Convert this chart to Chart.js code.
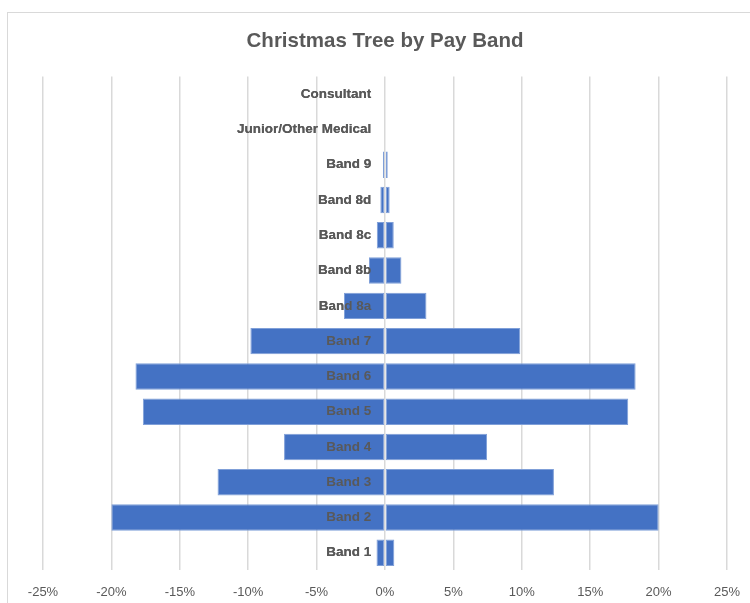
<!DOCTYPE html>
<html>
<head>
<meta charset="utf-8">
<script src="https://cdn.jsdelivr.net/npm/chart.js@4.4.1/dist/chart.umd.min.js"></script>
<style>
  html, body { margin: 0; padding: 0; background: #fff; overflow: hidden; }
  #wrap { position: relative; width: 750px; height: 603px; overflow: hidden; }
  #frame { position: absolute; left: 7px; top: 12px; width: 800px; height: 700px; border: 1px solid #d9d9d9; }
  #myChart { position: absolute; left: 0; top: 0; }
</style>
</head>
<body>
<div id="wrap">
  <div id="frame"></div>
  <canvas id="myChart" width="750" height="605"></canvas>
</div>
<script>
// pay bands, top of the tree first
const bands = ["Consultant", "Junior/Other Medical", "Band 9", "Band 8d", "Band 8c", "Band 8b", "Band 8a",
  "Band 7", "Band 6", "Band 5", "Band 4", "Band 3", "Band 2", "Band 1"];
// left half of the tree (drawn as negative %)
const leftSide = [0, 0, -0.15, -0.34, -0.6, -1.17, -3.0, -9.84, -18.24, -17.7, -7.38, -12.24, -20.0, -0.62];
// right half of the tree
const rightSide = [0, 0, 0.2, 0.34, 0.64, 1.2, 3.03, 9.89, 18.32, 17.78, 7.46, 12.35, 20.0, 0.68];
const xTicks = [-25, -20, -15, -10, -5, 0, 5, 10, 15, 20, 25];

const grey = "#595959";
const blue = "#4472C4";

// band names sit on top of the bars
const labelsOnTop = {
  id: "labelsOnTop",
  afterDatasetsDraw: function (chart) {
    chart.scales.y.drawLabels(chart.chartArea);
  }
};

function displayTreeChart() {
  var ctx = document.getElementById("myChart").getContext("2d");
  var chart = new Chart(ctx, {
    type: "bar",
    data: {
      labels: bands,
      datasets: [{
        label: "left",
        backgroundColor: blue,
        borderColor: "#7f9fd8",
        borderWidth: 1,
        borderSkipped: false,
        data: leftSide
      }, {
        label: "right",
        backgroundColor: blue,
        borderColor: "#7f9fd8",
        borderWidth: 1,
        borderSkipped: false,
        data: rightSide
      }]
    },
    options: {
      indexAxis: "y",
      responsive: false,
      animation: false,
      layout: { padding: { left: 43, right: 23, top: 0, bottom: 5 } },
      datasets: { bar: { categoryPercentage: 0.75, barPercentage: 1 } },
      plugins: {
        legend: { display: false },
        tooltip: { enabled: false },
        title: {
          display: true,
          text: "Christmas Tree by Pay Band",
          color: grey,
          font: { family: "Liberation Sans", size: 20.5, weight: "bold" },
          padding: { top: 29, bottom: 23 }
        }
      },
      scales: {
        x: {
          stacked: true,
          min: -25,
          max: 25,
          afterBuildTicks: function (scale) {
            scale.ticks = xTicks.map(function (v) { return { value: v }; });
          },
          // invisible tick marks push the % labels down
          grid: { color: "#d9d9d9", lineWidth: 1.5, drawTicks: true, tickLength: 14, tickColor: "rgba(0,0,0,0)" },
          border: { display: false },
          ticks: {
            color: grey,
            padding: 0,
            font: { family: "Liberation Sans", size: 13 },
            callback: function (v) { return v + "%"; }
          }
        },
        y: {
          stacked: true,
          position: { x: -1 },
          grid: { display: false },
          border: { display: false },
          ticks: {
            color: grey,
            font: { family: "Liberation Sans", size: 13.5, weight: "bold" }
          }
        }
      }
    },
    plugins: [labelsOnTop]
  });
}

displayTreeChart();
</script>
</body>
</html>
